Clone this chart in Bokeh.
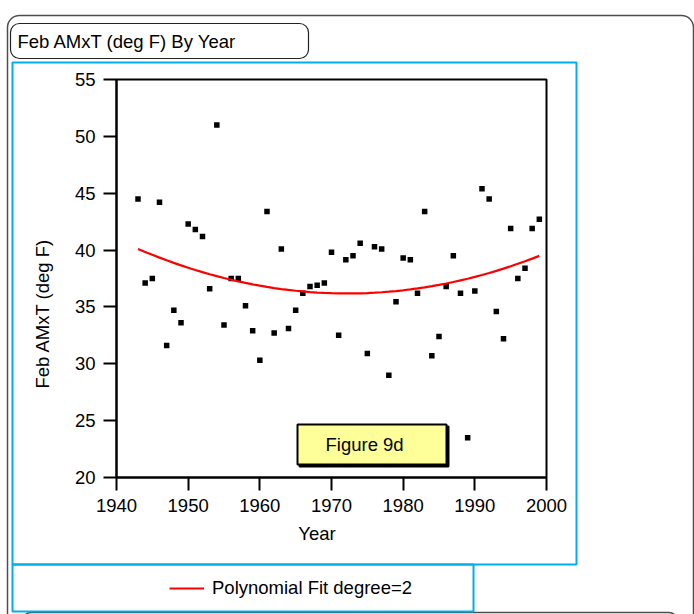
import numpy as np
from math import pi
from bokeh.plotting import figure
from bokeh.models import (Range1d, FixedTicker, BoxAnnotation, Label, Legend,
                          LegendItem, ColumnDataSource)
from bokeh.embed import file_html
from bokeh.resources import INLINE

# February average maximum temperature by year
years = list(range(1943, 2000))
feb_amxt = [44.5, 37.1, 37.5, 44.2, 31.6, 34.7, 33.6, 42.3, 41.8, 41.2,
            36.6, 51.0, 33.4, 37.5, 37.5, 35.1, 32.9, 30.3, 43.4, 32.7,
            40.1, 33.1, 34.7, 36.2, 36.8, 36.9, 37.1, 39.8, 32.5, 39.15,
            39.5, 40.6, 30.9, 40.3, 40.1, 29.0, 35.45, 39.3, 39.15, 36.2,
            43.4, 30.7, 32.4, 36.8, 39.5, 36.2, 23.5, 36.4, 45.4, 44.5,
            34.6, 32.2, 41.9, 37.5, 38.4, 41.9, 42.7]

x_ticks = [1940, 1950, 1960, 1970, 1980, 1990, 2000]
y_ticks = [20, 25, 30, 35, 40, 45, 50, 55]

# quadratic least-squares fit of temperature on year
yr = np.array(years, dtype=float)
coef = np.polyfit(yr - 1970.0, np.array(feb_amxt), 2)
fit_vals = np.polyval(coef, yr - 1970.0)

FONT = "Liberation Sans"
FSIZE = "18.5px"
W, H = 694, 614
FL, FR, FT, FB = 116, 546, 79, 477   # plot frame edges on the canvas
FIT_STYLE = dict(line_color="red", line_width=2.2)

# ---------------------------------------------------------------- report panel
# background canvas in pixel coordinates (y grows downwards)
bg = figure(width=W, height=H, output_backend="svg", toolbar_location=None,
            x_range=Range1d(0, W), y_range=Range1d(H, 0),
            x_axis_location=None, y_axis_location=None, min_border=0)
bg.grid.visible = False
bg.outline_line_color = None
bg.background_fill_color = "white"
bg.border_fill_color = "white"


def box(l, r, t, b, **kw):
    bg.add_layout(BoxAnnotation(left=l, right=r, top=t, bottom=b,
                                fill_alpha=0, line_alpha=1, **kw))


box(7, 693, 15, 700, line_color="#4d4d4d", line_width=1.5, border_radius=12)
box(21, 678, 612, 700, line_color="#4d4d4d", line_width=1.5, border_radius=10)
box(10, 308, 23, 58, line_color="#222222", line_width=1.2, border_radius=9)
box(12, 576, 62, 564, line_color="#00AEEF", line_width=2)
box(12, 473, 564, 611, line_color="#00AEEF", line_width=2)


def bg_label(text, x, y, align="left", angle=0):
    bg.add_layout(Label(x=x, y=y, text=text, text_font=FONT,
                        text_font_size=FSIZE, text_color="black",
                        text_align=align, text_baseline="middle", angle=angle))


bg_label("Feb AMxT (deg F) By Year", 17, 41)
bg_label("Year", 316.5, 533, align="center")
bg_label("Feb AMxT (deg F)", 42, 313, align="center", angle=pi / 2)

# legend for the fitted curve (key renderer carries the fit line style)
fit_key = bg.line([0], [0], **FIT_STYLE)
legend = Legend(items=[LegendItem(label="Polynomial Fit degree=2", renderers=[fit_key])],
                location=(169, H - 599), padding=0, margin=0,
                border_line_color=None, background_fill_alpha=0,
                glyph_width=35, glyph_height=22, label_height=22,
                label_standoff=8, label_text_font=FONT,
                label_text_font_size=FSIZE, label_text_color="black")
bg.add_layout(legend)

# ---------------------------------------------------------------- scatter plot
p = figure(width=W, height=H, output_backend="svg", toolbar_location=None,
           x_range=Range1d(1940, 2000), y_range=Range1d(20, 55),
           min_border_left=FL, min_border_right=W - FR,
           min_border_top=FT, min_border_bottom=H - FB,
           styles={"position": "absolute", "left": "0px", "top": "0px"})
p.title = None
p.grid.visible = False
p.outline_line_color = "black"
p.outline_line_width = 2
p.background_fill_color = "white"
p.border_fill_alpha = 0

for ax, ticks in ((p.xaxis, x_ticks), (p.yaxis, y_ticks)):
    ax.ticker = FixedTicker(ticks=ticks)
    ax.axis_line_width = 2
    ax.axis_line_color = "black"
    ax.major_tick_line_width = 2
    ax.major_tick_line_color = "black"
    ax.major_tick_out = 13
    ax.major_tick_in = 0
    ax.minor_tick_line_color = None
    ax.major_label_text_font = FONT
    ax.major_label_text_font_size = FSIZE
    ax.major_label_text_color = "black"
    ax.major_label_standoff = 8

src = ColumnDataSource(dict(year=years, temp=feb_amxt))
p.scatter("year", "temp", source=src, marker="square", size=5.5,
          color="black", line_width=0)
p.line(years, fit_vals, **FIT_STYLE)

# figure tag with a drop shadow
for dx, fill in ((2, "black"), (0, "#FFFF99")):
    p.add_layout(BoxAnnotation(left=297 + dx - FL, right=446 + dx - FL,
                               top=FB - (424 + dx), bottom=FB - (464 + dx),
                               left_units="screen", right_units="screen",
                               top_units="screen", bottom_units="screen",
                               fill_color=fill, fill_alpha=1,
                               line_color="black", line_alpha=1, line_width=2))
p.add_layout(Label(x=325 - FL, y=FB - 444, x_units="screen", y_units="screen",
                   text="Figure 9d", text_font=FONT, text_font_size=FSIZE,
                   text_color="black", text_baseline="middle"))

open("out.html", "w").write(file_html([bg, p], INLINE))
